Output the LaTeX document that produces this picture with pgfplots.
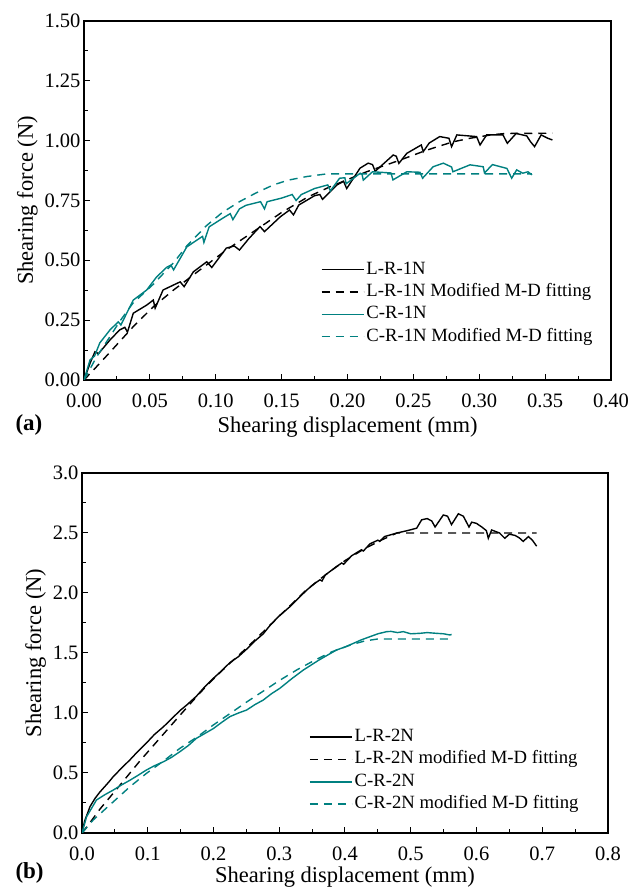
\documentclass[border=0pt]{standalone}
\usepackage{pgfplots}
\pgfplotsset{compat=1.18}
\usepackage{fontspec}
\setmainfont{Liberation Serif}
\definecolor{tealc}{RGB}{0,128,128}

\pgfplotsset{
  shearaxis/.style={
    scale only axis,
    tick align=inside,
    xtick pos=left, ytick pos=left,
    major tick length=6pt, minor tick length=3.5pt,
    every tick/.style={black, line width=1pt},
    axis line style={line width=1.1pt},
    /pgf/number format/assume math mode=true,
    tick label style={font=\fontsize{20.5}{24}\selectfont},
    xticklabel style={yshift=-10pt},
    label style={font=\fontsize{22.5}{26}\selectfont},
    xlabel style={yshift=-3pt},
    xlabel={Shearing displacement (mm)},
    ylabel={Shearing force (N)},
    legend cell align=left,
    legend style={draw=none, fill=none, anchor=north west,
      font=\fontsize{18.7}{22.5}\selectfont,
      nodes={text height=13.5pt, text depth=4.5pt, inner ysep=2.2pt, inner xsep=2pt},
      /tikz/every even column/.append style={column sep=0pt}},
    legend image code/.code={\draw[#1, line width=1.5pt] (0pt,0pt) -- (42pt,0pt);},
  },
  exp/.style={line width=1.4pt},
  fit/.style={line width=1.4pt, dash pattern=on 8pt off 6pt},
}

\begin{document}
\begin{tikzpicture}
\useasboundingbox (0,0) rectangle (630pt,889pt);

% ---------------- (a)
\begin{axis}[shearaxis,
  at={(84pt,509pt)}, anchor=south west,
  width=527pt, height=359pt,
  xmin=0, xmax=0.40, ymin=0, ymax=1.5,
  xtick={0,0.05,...,0.40}, ytick={0,0.25,...,1.5},
  minor x tick num=1, minor y tick num=1,
  xticklabel style={/pgf/number format/.cd, fixed, fixed zerofill, precision=2},
  yticklabel style={/pgf/number format/.cd, fixed, fixed zerofill, precision=2},
  legend style={at={(0.4435,0.345)}},
]
\addplot[exp, black] coordinates {
(0,0) (0.0046,0.07) (0.0083,0.118) (0.011,0.11) (0.0197,0.167) (0.027,0.209)
(0.031,0.22) (0.033,0.20) (0.0374,0.279) (0.0476,0.313) (0.0526,0.334) (0.054,0.30)
(0.060,0.376) (0.068,0.397) (0.073,0.41) (0.076,0.39) (0.083,0.452) (0.0932,0.494)
(0.097,0.47) (0.108,0.551) (0.114,0.56) (0.118,0.543) (0.125,0.59) (0.1336,0.641)
(0.137,0.62) (0.149,0.682) (0.156,0.71) (0.159,0.69) (0.163,0.731) (0.175,0.77)
(0.179,0.775) (0.181,0.755) (0.192,0.815) (0.197,0.83) (0.1994,0.80) (0.2095,0.885)
(0.2157,0.906) (0.219,0.90) (0.221,0.872) (0.2347,0.94) (0.237,0.935) (0.239,0.905)
(0.245,0.947) (0.256,0.982) (0.2575,0.954) (0.262,0.99) (0.270,1.017) (0.277,1.01)
(0.279,0.975) (0.283,1.024) (0.298,1.017) (0.3006,0.982) (0.3056,1.024) (0.318,1.024)
(0.3213,0.989) (0.328,1.03) (0.336,1.02) (0.339,0.995) (0.342,0.975) (0.347,1.024)
(0.352,1.01) (0.3555,1.003)
};
\addlegendentry{L-R-1N}
\addplot[fit, black] coordinates {
(0,0) (0.012,0.07) (0.0235,0.139) (0.0374,0.223) (0.0526,0.306) (0.068,0.376)
(0.088,0.46) (0.108,0.543) (0.13,0.625) (0.15,0.70) (0.17,0.765) (0.187,0.808)
(0.2145,0.87) (0.24,0.919) (0.257,0.954) (0.265,0.969) (0.28,0.995) (0.293,1.01)
(0.31,1.025) (0.32,1.03) (0.3555,1.031)
};
\addlegendentry{L-R-1N Modified M-D fitting}
\addplot[exp, tealc] coordinates {
(0,0) (0.0046,0.084) (0.008,0.10) (0.012,0.155) (0.0197,0.209) (0.026,0.243)
(0.028,0.23) (0.0374,0.334) (0.0476,0.376) (0.055,0.43) (0.063,0.472) (0.066,0.48)
(0.068,0.46) (0.078,0.556) (0.088,0.593) (0.090,0.60) (0.091,0.575) (0.095,0.64)
(0.105,0.675) (0.111,0.695) (0.113,0.67) (0.118,0.715) (0.123,0.73) (0.134,0.745)
(0.137,0.715) (0.139,0.745) (0.150,0.76) (0.158,0.775) (0.161,0.75) (0.165,0.775)
(0.175,0.80) (0.185,0.815) (0.187,0.79) (0.194,0.843) (0.198,0.845) (0.199,0.82)
(0.2096,0.864) (0.211,0.86) (0.212,0.835) (0.219,0.87) (0.233,0.865) (0.2345,0.836)
(0.245,0.87) (0.255,0.868) (0.257,0.843) (0.265,0.891) (0.2727,0.906) (0.279,0.89)
(0.280,0.87) (0.293,0.899) (0.303,0.891) (0.304,0.865) (0.31,0.9) (0.321,0.884)
(0.3246,0.843) (0.3284,0.878) (0.333,0.864) (0.337,0.87) (0.34,0.857)
};
\addlegendentry{C-R-1N}
\addplot[fit, tealc] coordinates {
(0,0) (0.0096,0.097) (0.0197,0.181) (0.027,0.244) (0.037,0.32) (0.0526,0.40)
(0.068,0.49) (0.078,0.56) (0.093,0.645) (0.105,0.70) (0.118,0.745) (0.13,0.78)
(0.1437,0.815) (0.155,0.835) (0.169,0.85) (0.184,0.861) (0.34,0.861)
};
\addlegendentry{C-R-1N Modified M-D fitting}
\end{axis}
\node[anchor=west, font=\fontsize{23}{26}\selectfont\bfseries] at (12pt,464pt) {(a)};

% ---------------- (b)
\begin{axis}[shearaxis,
  at={(82pt,56pt)}, anchor=south west,
  width=526pt, height=360pt,
  xmin=0, xmax=0.8, ymin=0, ymax=3,
  xtick={0,0.1,...,0.8}, ytick={0,0.5,...,3},
  minor x tick num=1, minor y tick num=1,
  xticklabel style={/pgf/number format/.cd, fixed, fixed zerofill, precision=1},
  yticklabel style={/pgf/number format/.cd, fixed, fixed zerofill, precision=1},
  xlabel style={yshift=3pt},
  legend style={at={(0.4259,0.304)}},
]
\addplot[exp, black] coordinates {
(0,0) (0.004,0.10) (0.0122,0.22) (0.02,0.29) (0.027,0.34) (0.04,0.42) (0.0476,0.47)
(0.06,0.54) (0.073,0.61) (0.085,0.68) (0.098,0.75) (0.11,0.82) (0.124,0.886)
(0.136,0.95) (0.149,1.02) (0.16,1.07) (0.174,1.14) (0.187,1.22) (0.2,1.29)
(0.212,1.35) (0.225,1.42) (0.238,1.47) (0.25,1.53) (0.263,1.60) (0.2757,1.66)
(0.286,1.73) (0.3,1.81) (0.315,1.88) (0.3316,1.97) (0.343,2.03) (0.354,2.08)
(0.362,2.11) (0.365,2.10) (0.37,2.15) (0.387,2.22) (0.395,2.25) (0.398,2.24)
(0.41,2.31) (0.425,2.36) (0.428,2.35) (0.438,2.41) (0.45,2.44) (0.453,2.43)
(0.46,2.47) (0.479,2.50) (0.495,2.52) (0.509,2.54) (0.5166,2.61) (0.525,2.62)
(0.532,2.60) (0.537,2.55) (0.5495,2.65) (0.556,2.64) (0.562,2.57) (0.5724,2.66)
(0.58,2.64) (0.5886,2.55) (0.5927,2.59) (0.60,2.58) (0.608,2.55) (0.615,2.52)
(0.618,2.456) (0.623,2.525) (0.635,2.50) (0.643,2.456) (0.650,2.49) (0.6586,2.48)
(0.665,2.46) (0.671,2.43) (0.679,2.47) (0.685,2.44) (0.6915,2.39)
};
\addlegendentry{L-R-2N}
\addplot[fit, black] coordinates {
(0,0) (0.01,0.07) (0.0274,0.20) (0.058,0.40) (0.088,0.60) (0.1136,0.76)
(0.144,0.95) (0.165,1.08) (0.19,1.23) (0.22,1.39) (0.25,1.54) (0.28,1.70)
(0.31,1.86) (0.34,2.02) (0.37,2.15) (0.40,2.27) (0.43,2.37) (0.455,2.44)
(0.479,2.50) (0.6915,2.50)
};
\addlegendentry{L-R-2N modified M-D fitting}
\addplot[exp, tealc] coordinates {
(0,0) (0.007,0.136) (0.015,0.21) (0.022,0.275) (0.035,0.32) (0.0476,0.358)
(0.06,0.40) (0.073,0.44) (0.085,0.48) (0.098,0.525) (0.11,0.56) (0.124,0.594)
(0.136,0.63) (0.149,0.678) (0.162,0.73) (0.174,0.789) (0.187,0.83) (0.1997,0.87)
(0.212,0.92) (0.225,0.97) (0.238,1.0) (0.2505,1.025) (0.263,1.07) (0.2757,1.108)
(0.288,1.16) (0.301,1.206) (0.32,1.29) (0.3366,1.358) (0.36,1.44) (0.387,1.525)
(0.40,1.55) (0.4126,1.58) (0.425,1.61) (0.438,1.636) (0.45,1.66) (0.4634,1.678)
(0.47,1.68) (0.48,1.67) (0.4887,1.678) (0.50,1.66) (0.514,1.664) (0.525,1.67)
(0.539,1.664) (0.55,1.66) (0.5597,1.65) (0.562,1.655)
};
\addlegendentry{C-R-2N}
\addplot[fit, tealc] coordinates {
(0,0) (0.017,0.108) (0.0476,0.26) (0.073,0.386) (0.098,0.497) (0.124,0.60)
(0.149,0.706) (0.175,0.80) (0.1997,0.90) (0.225,0.995) (0.25,1.09) (0.275,1.18)
(0.30,1.27) (0.327,1.36) (0.354,1.44) (0.38,1.51) (0.41,1.57) (0.43,1.60)
(0.45,1.617) (0.562,1.617)
};
\addlegendentry{C-R-2N modified M-D fitting}
\end{axis}
\node[anchor=west, font=\fontsize{23}{26}\selectfont\bfseries] at (12pt,16pt) {(b)};
\end{tikzpicture}
\end{document}
